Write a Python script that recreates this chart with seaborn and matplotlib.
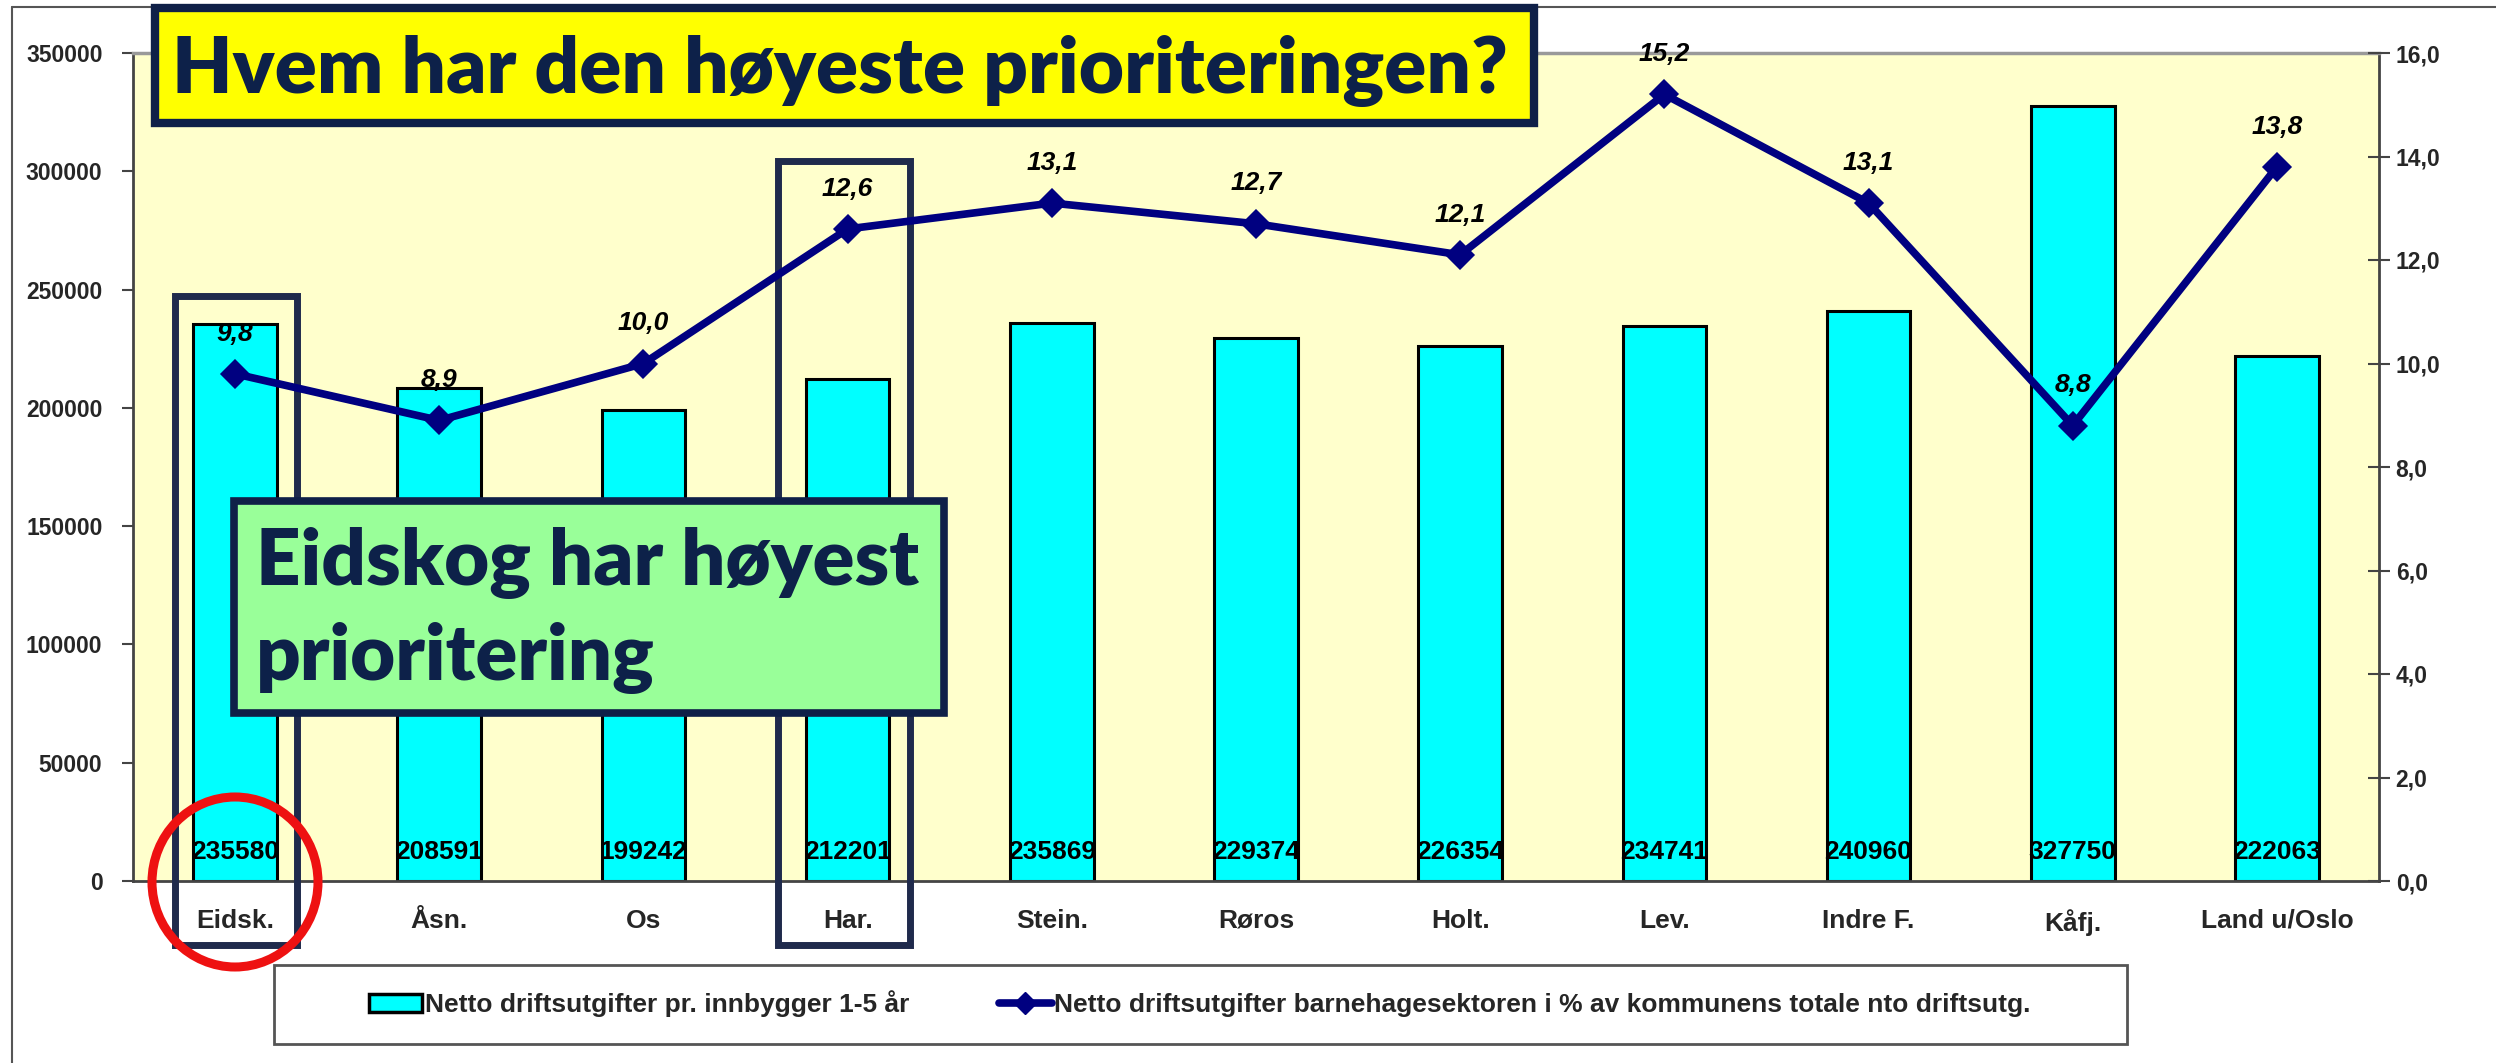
import numpy as np
import pandas as pd
import matplotlib
matplotlib.use("Agg")
import matplotlib.pyplot as plt
import seaborn as sns
from matplotlib.patches import Rectangle, Ellipse, Patch
from matplotlib.lines import Line2D
from matplotlib.ticker import FuncFormatter, FixedLocator

# ---------------- data ----------------
categories = ["Eidsk.", "Åsn.", "Os", "Har.", "Stein.", "Røros", "Holt.",
              "Lev.", "Indre F.", "Kåfj.", "Land u/Oslo"]
bar_values = [235580, 208591, 199242, 212201, 235869, 229374, 226354,
              234741, 240960, 327750, 222063]
line_values = [9.8, 8.9, 10.0, 12.6, 13.1, 12.7, 12.1, 15.2, 13.1, 8.8, 13.8]
bar_label = "Netto driftsutgifter pr. innbygger 1-5 år"
line_label = "Netto driftsutgifter barnehagesektoren i % av kommunens totale nto driftsutg."
title_text = "Hvem har den høyeste prioriteringen?"
callout_lines = ["Eidskog har høyest", "prioritering"]
left_ticks = [0, 50000, 100000, 150000, 200000, 250000, 300000, 350000]
right_ticks = [0, 2, 4, 6, 8, 10, 12, 14, 16]

df = pd.DataFrame({"kommune": categories, "utg": bar_values, "pct": line_values})

sns.set_style("white")
plt.rcParams["font.family"] = ["Liberation Sans", "DejaVu Sans"]
plt.rcParams["font.weight"] = "bold"

W, H = 2496, 1063
fig = plt.figure(figsize=(W / 100, H / 100), dpi=100)
fig.patch.set_facecolor("white")

def fx(px):
    return px / W

def fy(py):
    return 1 - py / H

NAVY = "#000080"
BOXNAVY = "#1f2a4c"
TXTNAVY = "#0d2149"

ax = fig.add_axes([fx(133), fy(881), fx(2379) - fx(133), fy(53) - fy(881)])
ax.set_facecolor("#FFFFCC")

sns.barplot(data=df, x="kommune", y="utg", ax=ax, color="#00FFFF",
            saturation=1, edgecolor="black", linewidth=2.2, width=0.41, zorder=2)
ax.set_xlim(-0.5, len(categories) - 0.5)
ax.set_ylim(0, 350000)
ax.set_yticks(left_ticks)
ax.set_yticklabels([str(t) for t in left_ticks], fontsize=16.5, fontweight="bold")
ax.set_xlabel("")
ax.set_ylabel("")
ax.tick_params(axis="x", which="major", length=0, pad=20, labelsize=19)
for lbl in ax.get_xticklabels():
    lbl.set_fontweight("bold")
ax.xaxis.set_minor_locator(FixedLocator(np.arange(-0.5, len(categories), 1.0)))
ax.tick_params(axis="x", which="minor", length=18, direction="inout", width=1, color="#444")
ax.tick_params(axis="y", which="major", length=8, direction="out", width=1.5,
               color="#444", left=True, pad=14)

for s in ["left", "bottom", "right"]:
    ax.spines[s].set_color("#444")
    ax.spines[s].set_linewidth(2)
ax.spines["top"].set_color("#999")
ax.spines["top"].set_linewidth(2.5)

# bar value labels near the base
for i, v in enumerate(bar_values):
    ax.annotate(str(v), xy=(i, 0), xytext=(0, 21), textcoords="offset points",
                ha="center", va="center", fontsize=19, fontweight="bold",
                color="black", zorder=4)

# highlight boxes around Eidsk. and Har. (drawn in ax so line stays above)
for (x0, y0, x1, y1) in [(175, 296, 297, 945), (778, 161, 910, 945)]:
    r = Rectangle((fx(x0), fy(y1)), fx(x1) - fx(x0), fy(y0) - fy(y1),
                  transform=fig.transFigure, fill=False, edgecolor=BOXNAVY,
                  linewidth=5, clip_on=False, zorder=3)
    ax.add_artist(r)

# secondary axis with line
ax2 = ax.twinx()
sns.pointplot(data=df, x="kommune", y="pct", ax=ax2, color=NAVY, markers="D",
              linestyles="-", markersize=11, linewidth=5.5, errorbar=None)
ax2.set_xlim(-0.5, len(categories) - 0.5)
ax2.set_ylim(0, 16)
ax2.set_yticks(right_ticks)
ax2.yaxis.set_major_formatter(FuncFormatter(lambda v, p: f"{v:.1f}".replace(".", ",")))
ax2.tick_params(axis="y", length=16, direction="inout", width=1.5, color="#444",
                labelsize=16.5, pad=4)
for lbl in ax2.get_yticklabels():
    lbl.set_fontweight("bold")
ax2.set_ylabel("")
ax2.set_xlabel("")
for s in ax2.spines.values():
    s.set_visible(False)

for i, v in enumerate(line_values):
    ax2.annotate(f"{v:.1f}".replace(".", ","), xy=(i, v), xytext=(0, 29),
                 textcoords="offset points", ha="center", va="center",
                 fontsize=19, fontweight="bold", fontstyle="italic", color="black")

# legend
handles = [Patch(facecolor="#00FFFF", edgecolor="black", linewidth=2.5),
           Line2D([0], [0], color=NAVY, lw=5.5, marker="D", markersize=11)]
fig.legend(handles, [bar_label, line_label], loc="center",
           bbox_to_anchor=(fx(1200), fy(1004)), frameon=False, ncol=2,
           prop={"size": 19, "weight": "bold"}, handlelength=2.0,
           handletextpad=0.1, columnspacing=3.4)
fig.add_artist(Rectangle((fx(274), fy(1044)), fx(2127) - fx(274), fy(965) - fy(1044),
                         transform=fig.transFigure, fill=False, edgecolor="#555",
                         linewidth=2, zorder=1))

# outer chart border (left and top)
fig.add_artist(Line2D([fx(12), fx(12)], [fy(7), 0], transform=fig.transFigure,
                      color="#555", lw=1.5))
fig.add_artist(Line2D([fx(12), 1], [fy(7), fy(7)], transform=fig.transFigure,
                      color="#555", lw=1.5))

# title box
fig.add_artist(Rectangle((fx(155), fy(123)), fx(1534) - fx(155), fy(8) - fy(123),
                         transform=fig.transFigure, facecolor="#FFFF00",
                         edgecolor="#0f2048", linewidth=6, zorder=5))
t_title = fig.text(fx(840), fy(93), title_text, ha="center", va="baseline",
                   fontsize=55, fontweight="heavy", family=["Lato", "DejaVu Sans"],
                   color=TXTNAVY, zorder=6)

# green callout
fig.add_artist(Rectangle((fx(234), fy(713)), fx(944) - fx(234), fy(501) - fy(713),
                         transform=fig.transFigure, facecolor="#99FF99",
                         edgecolor="#0f2048", linewidth=5.5, zorder=5))
t_c1 = fig.text(fx(256), fy(585), callout_lines[0], ha="left", va="baseline",
                fontsize=52, fontweight="heavy", family=["Lato", "DejaVu Sans"],
                color=TXTNAVY, zorder=6)
t_c2 = fig.text(fx(256), fy(680), callout_lines[1], ha="left", va="baseline",
                fontsize=52, fontweight="heavy", family=["Lato", "DejaVu Sans"],
                color=TXTNAVY, zorder=6)

# red ellipse
fig.add_artist(Ellipse((fx(235), fy(882)), fx(166), 170 / H,
                       transform=fig.transFigure, fill=False, edgecolor="#EE1111",
                       linewidth=6.5, zorder=6))

# fit big text widths
fig.canvas.draw()
r = fig.canvas.get_renderer()
bw = t_title.get_window_extent(r).width
t_title.set_fontsize(55 * 1335 / bw)
bw = t_c1.get_window_extent(r).width
fs = 52 * 663 / bw
t_c1.set_fontsize(fs)
t_c2.set_fontsize(fs)

fig.savefig("out.png", dpi=100)
